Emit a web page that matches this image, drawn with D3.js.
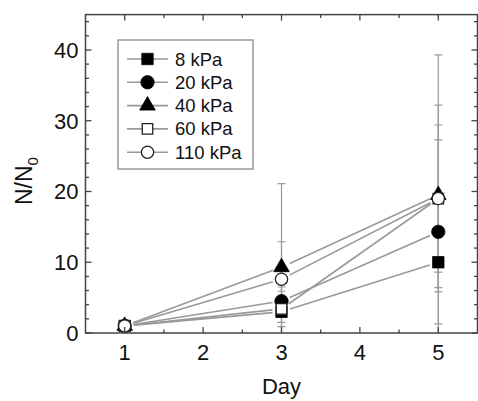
<!DOCTYPE html>
<html>
<head>
<meta charset="utf-8">
<script src="https://cdn.jsdelivr.net/npm/d3@7"></script>
<style>
  body { margin: 0; background: #fff; }
  text { font-family: "Liberation Sans", Arial, sans-serif; fill: #111; }
</style>
</head>
<body>
<div id="chart"></div>
<script>
"use strict";

// days measured
var days = [1, 3, 5];

// series names (substrate stiffness)
var seriesNames = ["8 kPa", "20 kPa", "40 kPa", "60 kPa", "110 kPa"];

// N/N0 mean values, one array per series
var v8   = [1, 3.0, 10.0];
var v20  = [1, 4.5, 14.3];
var v40  = [1, 9.3, 19.5];
var v60  = [1, 3.4, 19.0];
var v110 = [1, 7.6, 19.0];

// symmetric error (+/-)
var e8   = [0.3, 1.5, 3.6];
var e20  = [0.3, 2.0, 13.0];
var e40  = [0.3, 11.8, 19.8];
var e60  = [0.3, 2.5, 10.4];
var e110 = [0.3, 5.3, 13.2];

var xTicks = [1, 2, 3, 4, 5];
var yTicks = [0, 10, 20, 30, 40];

var means = [v8, v20, v40, v60, v110];
var errs = [e8, e20, e40, e60, e110];
var symbols = ["square", "circle", "triangle", "square", "circle"];
var filled = [true, true, true, false, false];

var svgWidth = 478, svgHeight = 401;
var pLeft = 85.5, pRight = 477.5, pTop = 14.6, pBottom = 333;

var svg = d3.select("#chart").append("svg")
    .attr("width", svgWidth)
    .attr("height", svgHeight);

var x = d3.scaleLinear().domain([0.5, 5.5]).range([pLeft, pRight]);
var y = d3.scaleLinear().domain([0, 45]).range([pBottom, pTop]);

var axisColor = "#444";
var lineColor = "#999";

//clip for data area
svg.append("clipPath").attr("id", "clip")
  .append("rect")
    .attr("x", pLeft).attr("y", pTop)
    .attr("width", pRight - pLeft).attr("height", pBottom - pTop);

var plot = svg.append("g").attr("clip-path", "url(#clip)");

//error bars
var capW = 4;
means.forEach(function(m, s){
    m.forEach(function(val, i){
        var cx = x(days[i]);
        var hi = y(val + errs[s][i]), lo = y(val - errs[s][i]);
        plot.append("line")
            .attr("x1", cx).attr("x2", cx)
            .attr("y1", hi).attr("y2", lo)
            .attr("stroke", lineColor).attr("stroke-width", 1.2);
        [hi, lo].forEach(function(yy){
            plot.append("line")
                .attr("x1", cx - capW).attr("x2", cx + capW)
                .attr("y1", yy).attr("y2", yy)
                .attr("stroke", lineColor).attr("stroke-width", 1.2);
        });
    });
});

//connecting lines, with a gap around each symbol
var gap = 9;
means.forEach(function(m){
    for (var i = 0; i < m.length - 1; i++) {
        var x1 = x(days[i]), y1 = y(m[i]);
        var x2 = x(days[i+1]), y2 = y(m[i+1]);
        var len = Math.hypot(x2 - x1, y2 - y1);
        var ux = (x2 - x1)/len, uy = (y2 - y1)/len;
        plot.append("line")
            .attr("x1", x1 + ux*gap).attr("y1", y1 + uy*gap)
            .attr("x2", x2 - ux*gap).attr("y2", y2 - uy*gap)
            .attr("stroke", lineColor).attr("stroke-width", 1.6);
    }
});

function symbolPath(kind){
    if (kind === "square") return d3.symbol().type(d3.symbolSquare).size(130)();
    if (kind === "circle") return d3.symbol().type(d3.symbolCircle).size(140)();
    return d3.symbol().type(d3.symbolTriangle).size(105)();
}

function drawSymbol(g, s, cx, cy){
    g.append("path")
        .attr("d", symbolPath(symbols[s]))
        .attr("transform", "translate(" + cx + "," + cy + ")" + (filled[s] ? "" : " scale(0.92)"))
        .attr("fill", filled[s] ? "#000" : "#fff")
        .attr("stroke", filled[s] ? "#000" : "#222")
        .attr("stroke-width", filled[s] ? 0.8 : 1.4);
}

//markers
means.forEach(function(m, s){
    m.forEach(function(val, i){
        drawSymbol(plot, s, x(days[i]), y(val));
    });
});

//frame
svg.append("rect")
    .attr("x", pLeft).attr("y", pTop)
    .attr("width", pRight - pLeft).attr("height", pBottom - pTop)
    .attr("fill", "none").attr("stroke", axisColor).attr("stroke-width", 1.5);

//ticks, all pointing inward
var xMinor = d3.range(1.5, 5.5, 1);
var yMinor = d3.range(2, 45, 2).filter(function(d){ return d % 10 !== 0; });
var majLen = 6, minLen = 3.5;

var tg = svg.append("g").attr("stroke", axisColor).attr("stroke-width", 1.3);
xTicks.forEach(function(d){
    tg.append("line").attr("x1", x(d)).attr("x2", x(d)).attr("y1", pBottom).attr("y2", pBottom - majLen);
    tg.append("line").attr("x1", x(d)).attr("x2", x(d)).attr("y1", pTop).attr("y2", pTop + majLen);
});
xMinor.forEach(function(d){
    tg.append("line").attr("x1", x(d)).attr("x2", x(d)).attr("y1", pBottom).attr("y2", pBottom - minLen);
    tg.append("line").attr("x1", x(d)).attr("x2", x(d)).attr("y1", pTop).attr("y2", pTop + minLen);
});
yTicks.forEach(function(d){
    tg.append("line").attr("x1", pLeft).attr("x2", pLeft + majLen).attr("y1", y(d)).attr("y2", y(d));
    tg.append("line").attr("x1", pRight).attr("x2", pRight - majLen).attr("y1", y(d)).attr("y2", y(d));
});
yMinor.forEach(function(d){
    tg.append("line").attr("x1", pLeft).attr("x2", pLeft + minLen).attr("y1", y(d)).attr("y2", y(d));
    tg.append("line").attr("x1", pRight).attr("x2", pRight - minLen).attr("y1", y(d)).attr("y2", y(d));
});

//tick labels
svg.selectAll(".xlab").data(xTicks).enter().append("text")
    .attr("x", function(d){ return x(d); })
    .attr("y", pBottom + 27)
    .attr("text-anchor", "middle")
    .style("font-size", "22px")
    .text(function(d){ return d; });

svg.selectAll(".ylab").data(yTicks).enter().append("text")
    .attr("x", pLeft - 7)
    .attr("y", function(d){ return y(d) + 8; })
    .attr("text-anchor", "end")
    .style("font-size", "22px")
    .text(function(d){ return d; });

//axis titles
svg.append("text")
    .attr("x", x(3))
    .attr("y", 394)
    .attr("text-anchor", "middle")
    .style("font-size", "22px")
    .text("Day");

var yt = svg.append("text")
    .attr("transform", "translate(32,205) rotate(-90)")
    .attr("text-anchor", "start")
    .style("font-size", "23px");
yt.append("tspan").text("N/N");
yt.append("tspan").attr("dy", 6).style("font-size", "15px").text("0");

//legend
var lg = svg.append("g");
lg.append("rect")
    .attr("x", 118).attr("y", 40)
    .attr("width", 135).attr("height", 129)
    .attr("fill", "#fff").attr("stroke", lineColor).attr("stroke-width", 1.5);

seriesNames.forEach(function(name, s){
    var ry = 59 + s * 23.3;
    lg.append("line")
        .attr("x1", 127).attr("x2", 168)
        .attr("y1", ry).attr("y2", ry)
        .attr("stroke", lineColor).attr("stroke-width", 1.6);
    drawSymbol(lg, s, 147.5, ry);
    lg.append("text")
        .attr("x", 175).attr("y", ry + 6.5)
        .style("font-size", "18.5px")
        .text(name);
});
</script>
</body>
</html>
